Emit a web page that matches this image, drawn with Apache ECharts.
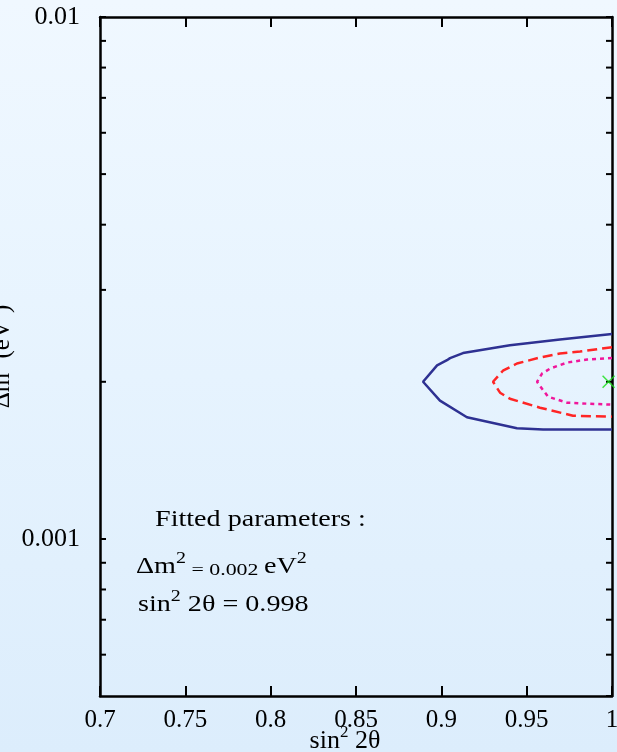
<!DOCTYPE html>
<html>
<head>
<meta charset="utf-8">
<script src="https://cdn.jsdelivr.net/npm/echarts@6/dist/echarts.min.js"></script>
<style>
  html, body { margin: 0; padding: 0; }
  #chart {
    width: 617px; height: 752px;
    background: linear-gradient(to bottom, #f0f8ff 0%, #e6f3fe 50%, #dcedfc 100%);
  }
</style>
</head>
<body>
<div id="chart"></div>
<script>
// Oscillation-parameter confidence contours (sin^2 2θ vs Δm^2)
const xTicks = [0.7, 0.75, 0.8, 0.85, 0.9, 0.95, 1];
const yMinorTicks = [0.0006, 0.0007, 0.0008, 0.0009,
                     0.002, 0.003, 0.004, 0.005, 0.006, 0.007, 0.008, 0.009];

// outer contour (solid)
const outerX = [1.0, 0.9695, 0.9402, 0.9127, 0.9051, 0.9033, 0.8975, 0.8893, 0.8992, 0.9150, 0.9443, 0.9596, 1.0];
const outerY = [0.00247, 0.00241, 0.00235, 0.00227, 0.00222, 0.00220, 0.00215, 0.00200, 0.00184, 0.00171, 0.00163, 0.00162, 0.00162];
// middle contour (dashed)
const middleX = [1.0, 0.9813, 0.9695, 0.9578, 0.9443, 0.9361, 0.9303, 0.9344, 0.9402, 0.9578, 0.9771, 1.0];
const middleY = [0.00233, 0.002285, 0.002265, 0.002226, 0.002168, 0.0021, 0.0020, 0.001906, 0.001856, 0.001784, 0.001722, 0.001715];
// inner contour (dotted)
const innerX = [1.0, 0.9854, 0.9736, 0.9637, 0.9590, 0.9561, 0.9590, 0.9625, 0.9736, 0.9854, 1.0];
const innerY = [0.002222, 0.002206, 0.002177, 0.00212, 0.002074, 0.0020, 0.00194, 0.001873, 0.001824, 0.001816, 0.001808];

// best-fit point
const fitSin2 = 0.998;
const fitDm2 = 0.002;

const FONT = '"Liberation Serif", "DejaVu Serif", serif';
const zip = (xs, ys) => xs.map((x, i) => [x, ys[i]]);

const chart = echarts.init(document.getElementById('chart'), null, { renderer: 'canvas' });

const axisLine = { show: true, lineStyle: { color: '#000', width: 2.5 } };
const noteRich = {
  t: { fontFamily: FONT, fontSize: 22.5, lineHeight: 28, verticalAlign: 'bottom', fill: '#000' },
  s: { fontFamily: FONT, fontSize: 17.5, lineHeight: 24, verticalAlign: 'bottom', fill: '#000' },
  sup: { fontFamily: FONT, fontSize: 16, lineHeight: 28, verticalAlign: 'top', fill: '#000' }
};

const option = {
  backgroundColor: 'transparent',
  animation: false,
  grid: { left: 100, right: 5, top: 17, bottom: 56, containLabel: false, outerBoundsMode: 'none' },
  xAxis: [
    {
      type: 'value', position: 'bottom',
      min: xTicks[0], max: xTicks[xTicks.length - 1], interval: 0.05,
      axisLine: axisLine,
      axisTick: { show: true, inside: true, length: 10, lineStyle: { color: '#000', width: 2 } },
      axisLabel: {
        show: true, margin: 12, color: '#000', fontFamily: FONT, fontSize: 25,
        formatter: v => String(+v.toFixed(2))
      },
      splitLine: { show: false },
      name: '{t|sin}{sup|2}{t| 2θ}',
      nameLocation: 'middle', nameGap: 28, nameMoveOverlap: false,
      nameTextStyle: {
        color: '#000', fontFamily: FONT, fontSize: 26, padding: [0, 22, 0, 0],
        rich: {
          t: { fontFamily: FONT, fontSize: 26, color: '#000', lineHeight: 30, verticalAlign: 'bottom' },
          sup: { fontFamily: FONT, fontSize: 17, color: '#000', lineHeight: 30, verticalAlign: 'top' }
        }
      }
    },
    {
      type: 'value', position: 'top',
      min: xTicks[0], max: xTicks[xTicks.length - 1], interval: 0.05,
      axisLine: axisLine,
      axisTick: { show: true, inside: true, length: 10, lineStyle: { color: '#000', width: 2 } },
      axisLabel: { show: false },
      splitLine: { show: false }
    }
  ],
  yAxis: [
    {
      type: 'log', logBase: 10, position: 'left',
      min: 0.0005, max: 0.01,
      axisLine: axisLine,
      axisTick: { show: true, inside: true, length: 6, lineStyle: { color: '#000', width: 2 } },
      axisLabel: {
        show: true, margin: 20, color: '#000', fontFamily: FONT, fontSize: 26,
        showMinLabel: false,
        formatter: v => String(+(+v).toPrecision(1))
      },
      splitLine: { show: false },
      minorTick: { show: false },
      name: '{t|Δm}{sup|2}{t| (eV}{sup|2}{t|)}',
      nameLocation: 'middle', nameGap: 85, nameRotate: 90, nameMoveOverlap: false,
      nameTextStyle: {
        color: '#000', fontFamily: FONT, fontSize: 25,
        rich: {
          t: { fontFamily: FONT, fontSize: 25, color: '#000', lineHeight: 30, verticalAlign: 'bottom' },
          sup: { fontFamily: FONT, fontSize: 16, color: '#000', lineHeight: 30, verticalAlign: 'top' }
        }
      }
    },
    {
      type: 'log', logBase: 10, position: 'right',
      min: 0.0005, max: 0.01,
      axisLine: axisLine,
      axisTick: { show: true, inside: true, length: 6, lineStyle: { color: '#000', width: 2 } },
      axisLabel: { show: false },
      splitLine: { show: false }
    }
  ],
  series: [
    {
      // log minor ticks on both vertical edges
      type: 'custom', coordinateSystem: 'cartesian2d',
      xAxisIndex: 0, yAxisIndex: 0, silent: true, clip: false, z: 10,
      data: yMinorTicks.map(v => [xTicks[0], v]),
      renderItem: (params, api) => {
        const p = api.coord([api.value(0), api.value(1)]);
        const cs = params.coordSys;
        const style = { stroke: '#000', lineWidth: 2 };
        return {
          type: 'group',
          children: [
            { type: 'line', shape: { x1: cs.x, y1: p[1], x2: cs.x + 6, y2: p[1] }, style },
            { type: 'line', shape: { x1: cs.x + cs.width - 6, y1: p[1], x2: cs.x + cs.width, y2: p[1] }, style }
          ]
        };
      }
    },
    {
      name: 'outer', type: 'line', data: zip(outerX, outerY),
      symbol: 'none', smooth: false,
      lineStyle: { color: '#2e3192', width: 2.5, type: 'solid' }
    },
    {
      name: 'middle', type: 'line', data: zip(middleX, middleY),
      symbol: 'none', smooth: false,
      lineStyle: { color: '#ff2525', width: 2.5, type: [10, 5] }
    },
    {
      name: 'inner', type: 'line', data: zip(innerX, innerY),
      symbol: 'none', smooth: false,
      lineStyle: { color: '#f0169b', width: 2.5, type: [4, 4] }
    },
    {
      name: 'fit', type: 'scatter', data: [[fitSin2, fitDm2]],
      symbol: 'path://M0,0L10,10M10,0L0,10', symbolSize: 12, z: 12,
      itemStyle: { color: 'none', borderColor: '#14e014', borderWidth: 1.5 }
    }
  ],
  graphic: [
    {
      type: 'text', x: 155, y: 509, z: 20, scaleX: 1.25,
      style: { text: 'Fitted parameters :', fontFamily: FONT, fontSize: 22.5, fill: '#000',
               align: 'left', verticalAlign: 'top' }
    },
    {
      type: 'text', x: 136, y: 551, z: 20, scaleX: 1.25,
      style: {
        text: '{t|Δm}{sup|2}{s| = ' + fitDm2 + ' }{t|eV}{sup|2}',
        fontFamily: FONT, fill: '#000', align: 'left', verticalAlign: 'top',
        rich: noteRich
      }
    },
    {
      type: 'text', x: 138, y: 589, z: 20, scaleX: 1.25,
      style: {
        text: '{t|sin}{sup|2}{t| 2θ = ' + fitSin2 + '}',
        fontFamily: FONT, fill: '#000', align: 'left', verticalAlign: 'top',
        rich: noteRich
      }
    }
  ]
};

chart.setOption(option);
</script>
</body>
</html>
